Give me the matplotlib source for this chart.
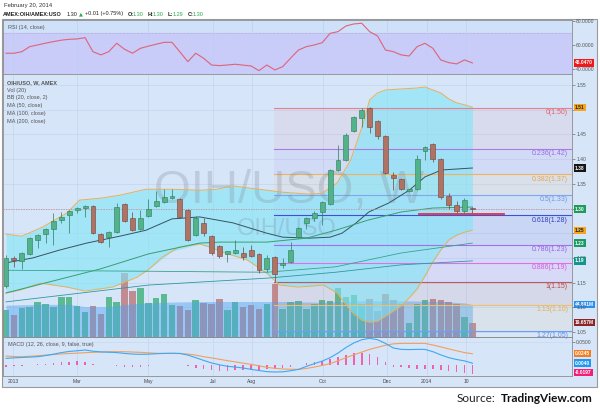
import numpy as np
import matplotlib
matplotlib.use("Agg")
import matplotlib.pyplot as plt
from matplotlib.patches import Rectangle
from matplotlib.lines import Line2D
from matplotlib.transforms import blended_transform_factory

# ---------------- DATA ----------------
# Weekly OIH/USO bars, week of 2012-12-31 .. week of 2014-02-17
opens = [1.143, 1.199, 1.194, 1.208, 1.236, 1.248, 1.258, 1.277, 1.287, 1.297,
         1.301, 1.305, 1.248, 1.242, 1.252, 1.309, 1.281, 1.258, 1.285, 1.305,
         1.313, 1.321, 1.319, 1.297, 1.247, 1.270, 1.244, 1.224, 1.208, 1.210,
         1.210, 1.216, 1.208, 1.178, 1.202, 1.186, 1.192, 1.242, 1.270, 1.280,
         1.293, 1.309, 1.378, 1.398, 1.457, 1.483, 1.503, 1.477, 1.447, 1.368,
         1.360, 1.336, 1.340, 1.416, 1.431, 1.400, 1.325, 1.307, 1.295, 1.301]
highs = [1.205, 1.203, 1.212, 1.242, 1.248, 1.260, 1.290, 1.293, 1.297, 1.303,
         1.307, 1.307, 1.250, 1.254, 1.311, 1.311, 1.292, 1.298, 1.320, 1.336,
         1.340, 1.340, 1.321, 1.299, 1.285, 1.280, 1.246, 1.226, 1.214, 1.236,
         1.222, 1.226, 1.210, 1.205, 1.204, 1.200, 1.232, 1.262, 1.282, 1.295,
         1.315, 1.380, 1.428, 1.452, 1.487, 1.503, 1.505, 1.479, 1.449, 1.374,
         1.362, 1.339, 1.408, 1.427, 1.433, 1.402, 1.331, 1.315, 1.322, 1.303]
lows = [1.140, 1.182, 1.178, 1.205, 1.220, 1.230, 1.226, 1.270, 1.250, 1.290,
        1.283, 1.248, 1.230, 1.222, 1.250, 1.273, 1.254, 1.256, 1.283, 1.303,
        1.311, 1.319, 1.281, 1.234, 1.245, 1.245, 1.205, 1.200, 1.192, 1.208,
        1.196, 1.202, 1.170, 1.172, 1.151, 1.180, 1.190, 1.240, 1.258, 1.275,
        1.267, 1.307, 1.376, 1.396, 1.455, 1.465, 1.453, 1.440, 1.370, 1.337,
        1.338, 1.334, 1.338, 1.398, 1.395, 1.320, 1.300, 1.288, 1.290, 1.290]
closes = [1.200, 1.195, 1.210, 1.240, 1.246, 1.258, 1.275, 1.283, 1.295, 1.301,
          1.305, 1.250, 1.232, 1.252, 1.303, 1.275, 1.256, 1.281, 1.299, 1.315,
          1.323, 1.325, 1.283, 1.236, 1.281, 1.250, 1.210, 1.204, 1.214, 1.216,
          1.202, 1.204, 1.176, 1.200, 1.167, 1.190, 1.216, 1.260, 1.280, 1.290,
          1.313, 1.378, 1.398, 1.449, 1.485, 1.499, 1.465, 1.447, 1.372, 1.362,
          1.340, 1.337, 1.400, 1.425, 1.400, 1.323, 1.307, 1.295, 1.317, 1.299]

volume_m = [37.3, 30.4, 40.0, 41.4, 48.3, 45.5, 41.4, 55.2, 55.2, 42.8,
            34.5, 42.8, 31.7, 55.2, 48.3, 88.3, 63.5, 67.6, 46.9, 53.8,
            59.3, 44.2, 42.8, 37.3, 51.1, 46.9, 45.5, 52.4, 37.3, 48.3,
            41.4, 44.2, 38.6, 45.5, 73.1, 38.6, 48.3, 49.7, 38.6, 45.5,
            51.1, 49.7, 67.6, 55.2, 58.0, 45.5, 52.4, 35.9, 59.3, 51.1,
            45.5, 19.3, 45.5, 51.1, 52.4, 51.1, 48.3, 45.5, 27.6, 19.657]

vol_ma_week = [0, 4, 8, 10, 13, 16, 20, 25, 30, 35, 40, 45, 50, 55, 58, 59]
vol_ma_m = [44, 45, 45, 42, 42, 46, 48, 49, 49, 49, 48, 50, 50, 49, 47, 44.891]

bb_week = [0, 2, 4.7, 7.7, 9.3, 12, 14.4, 17.7, 21, 24.5, 26.7, 28.6, 30.5, 35,
           38.5, 40, 41.9, 43.6, 45.2, 46, 47, 48, 50, 52, 53, 54, 55, 56, 57, 58, 59]
bb_upper = [1.248, 1.244, 1.263, 1.291, 1.317, 1.321, 1.327, 1.339, 1.339, 1.337,
            1.339, 1.346, 1.342, 1.333, 1.329, 1.331, 1.352, 1.398, 1.473, 1.520,
            1.534, 1.540, 1.542, 1.544, 1.546, 1.540, 1.534, 1.522, 1.514, 1.510, 1.505]
bbl_week = [0, 1.8, 4.3, 7.7, 10, 13.5, 16.6, 18, 19.8, 21.9, 24.5, 25.8, 27.7,
            30.5, 33, 34.6, 37, 40.2, 41.9, 43, 44, 45, 46, 47, 48, 50, 51, 52,
            53, 54, 55, 56, 57, 58, 59]
bb_lower = [1.129, 1.135, 1.149, 1.141, 1.133, 1.141, 1.161, 1.176, 1.202, 1.222,
            1.228, 1.222, 1.210, 1.196, 1.169, 1.145, 1.141, 1.145, 1.129, 1.105,
            1.086, 1.074, 1.070, 1.072, 1.082, 1.103, 1.119, 1.137, 1.163, 1.192,
            1.216, 1.236, 1.246, 1.252, 1.256]
basis_week = [0, 3.4, 6.8, 10.2, 14.4, 17.7, 21, 24.5, 28.7, 33, 35, 38.4, 41,
              42.5, 44.3, 45.9, 48.4, 51, 53, 55.1, 59]
bb_basis = [1.190, 1.200, 1.216, 1.230, 1.244, 1.256, 1.279, 1.283, 1.271, 1.250,
            1.242, 1.240, 1.242, 1.250, 1.271, 1.293, 1.311, 1.337, 1.364, 1.378, 1.382]

ma50_week = [0, 12, 18, 24.5, 27, 33, 38, 41.7, 45.9, 50, 54, 59]
ma50 = [1.129, 1.178, 1.208, 1.230, 1.232, 1.232, 1.240, 1.256, 1.277, 1.293, 1.301, 1.303]
ma100_week = [0, 18, 33, 41.7, 50, 59]
ma100 = [1.175, 1.173, 1.171, 1.182, 1.210, 1.230]
ma200_week = [0, 18, 33, 41.7, 50, 59]
ma200 = [1.111, 1.145, 1.159, 1.171, 1.186, 1.194]

rsi = [53.1, 53.1, 54.4, 58.6, 60.0, 61.5, 62.8, 64.0, 64.7, 65.0,
       66.1, 54.4, 51.7, 54.4, 61.4, 56.4, 53.1, 57.2, 59.0, 60.6,
       62.2, 62.2, 54.2, 46.1, 53.1, 48.9, 43.3, 42.8, 43.3, 43.9,
       43.2, 42.5, 38.6, 43.3, 39.2, 41.9, 49.0, 55.8, 58.6, 60.0,
       61.9, 69.7, 71.1, 75.8, 77.5, 78.1, 71.1, 67.5, 55.8, 54.4,
       51.7, 50.8, 58.6, 61.4, 57.2, 47.5, 45.3, 44.2, 47.5, 45.047]

macd = [0.0145, 0.0155, 0.0165, 0.0172, 0.0180, 0.0205, 0.0235, 0.0270, 0.0295, 0.0310,
        0.0326, 0.0300, 0.0285, 0.0278, 0.0270, 0.0252, 0.0238, 0.0232, 0.0236, 0.0245,
        0.0252, 0.0255, 0.0253, 0.0215, 0.0160, 0.0100, 0.0045, 0.0005, -0.0028, -0.0045,
        -0.0065, -0.0095, -0.0120, -0.0145, -0.0152, -0.0148, -0.0125, -0.0095, -0.0030, 0.0030,
        0.0085, 0.0160, 0.0260, 0.0380, 0.0480, 0.0550, 0.0580, 0.0550, 0.0470, 0.0370,
        0.0340, 0.0335, 0.0340, 0.0340, 0.0290, 0.0220, 0.0160, 0.0120, 0.0090, 0.0040]
signal = [0.0195, 0.0185, 0.0180, 0.0190, 0.0202, 0.0215, 0.0228, 0.0240, 0.0250, 0.0258,
          0.0268, 0.0275, 0.0282, 0.0289, 0.0290, 0.0289, 0.0282, 0.0275, 0.0265, 0.0255,
          0.0253, 0.0253, 0.0248, 0.0239, 0.0215, 0.0180, 0.0155, 0.0125, 0.0095, 0.0068,
          0.0040, 0.0015, -0.0020, -0.0050, -0.0072, -0.0087, -0.0092, -0.0094, -0.0075, -0.0045,
          -0.0010, 0.0030, 0.0090, 0.0160, 0.0220, 0.0280, 0.0340, 0.0385, 0.0430, 0.0460,
          0.0470, 0.0470, 0.0470, 0.0470, 0.0435, 0.0395, 0.0350, 0.0310, 0.0270, 0.0245]
hist = [-0.004, -0.003, -0.0015, -0.001, 0.0015, 0.003, 0.004, 0.006, 0.0075, 0.008,
        0.0075, 0.0025, 0.0005, -0.001, -0.002, -0.0035, -0.0045, -0.0045, -0.003, -0.001,
        0.0003, 0.0005, 0.0003, -0.002, -0.0055, -0.008, -0.011, -0.012, -0.0125, -0.0115,
        -0.0105, -0.011, -0.010, -0.0095, -0.008, -0.006, -0.0035, -0.0005, 0.0045, 0.0075,
        0.0095, 0.013, 0.017, 0.022, 0.026, 0.027, 0.024, 0.0165, 0.006, -0.004,
        -0.004, -0.007, -0.008, -0.008, -0.009, -0.011, -0.014, -0.016, -0.018, -0.0197]

fib_ratio = ['0', '0.236', '0.382', '0.5', '0.618', '0.786', '0.886', '1', '1.13', '1.27']
fib_price = [1.503, 1.420, 1.369, 1.327, 1.286, 1.227, 1.190, 1.151, 1.105, 1.052]
fib_text = ['1.50', '1.42', '1.37', '1.33', '1.28', '1.23', '1.19', '1.15', '1.10', '1.05']
fib_start_week = 33.9
support_level = 1.289
support_weeks = [52.3, 63.0]

tick_week = [0.9, 9.0, 18.0, 26.2, 31.1, 40.1, 48.2, 53.2, 58.2]
tick_labels = ['2013', 'Mar', 'May', 'Jul', 'Aug', 'Oct', 'Dec', '2014', '10']
price_ticks = [1.05, 1.10, 1.15, 1.20, 1.25, 1.30, 1.35, 1.40, 1.45, 1.50, 1.55]
price_tick_labels = ['1.05', '1.10', '1.15', '1.20', '', '', '1.35', '1.40', '1.45', '', '1.55']

# ---------------- STYLE / LAYOUT ----------------
FONT = ['Liberation Sans', 'DejaVu Sans']
plt.rcParams['font.family'] = FONT
W, H = 600, 412
BG = '#d7e5f8'
GRID = '#c2d5f0'
SPINE = '#8c8c8c'

def fx(px): return px / W
def fy(py): return 1 - py / H
def rect(x0, y0, x1, y1): return [fx(x0), fy(y1), fx(x1) - fx(x0), fy(y0) - fy(y1)]

fig = plt.figure(figsize=(6, 4.12), dpi=100)
fig.patch.set_facecolor('white')
fig.add_artist(Rectangle((fx(2), fy(387)), fx(597) - fx(2), fy(19) - fy(387),
                         transform=fig.transFigure, fc=BG, ec='#9a9a9a', lw=0.8, zorder=-5))

XL = (-0.38, 71.6)
n = len(closes)
idx = np.arange(n)
o = np.array(opens); c = np.array(closes); hi = np.array(highs); lo = np.array(lows)
up = c >= o

def style_axis(ax):
    ax.set_xlim(*XL)
    for s in ax.spines.values():
        s.set_color(SPINE); s.set_linewidth(0.6)
    ax.yaxis.tick_right()
    ax.tick_params(axis='y', labelsize=3.6, length=2, width=0.4, pad=1, colors='#555555')
    ax.tick_params(axis='x', length=0)

# ---------- RSI ----------
ax_r = fig.add_axes(rect(3, 20, 572, 74))
ax_r.set_facecolor('#cfe1f9')
style_axis(ax_r)
ax_r.set_ylim(35.8, 80.8)
ax_r.axhspan(30, 70, color='#c9cbf8', zorder=0)
ax_r.axhline(70, color='#a6a6cc', lw=0.5, ls=(0, (1, 1)), zorder=1)
ax_r.axhline(60, color=GRID, lw=0.4, zorder=1)
for t in tick_week:
    ax_r.axvline(t, color='#bcd0f2', lw=0.5, zorder=1)
ax_r.plot(idx, rsi, color='#e0637a', lw=0.8, zorder=3)
ax_r.set_yticks([40, 60, 80])
ax_r.set_yticklabels(['40.0000', '60.0000', '80.0000'])
ax_r.set_xticks([])
ax_r.text(0.008, 0.86, 'RSI (14, close)', transform=ax_r.transAxes, fontsize=4,
          color='#555555', va='center')
ax_r.annotate('45.0470', xy=(1, rsi[-1]), xycoords=('axes fraction', 'data'),
              xytext=(2.2, 0), textcoords='offset points', fontsize=3.5, color='white',
              fontweight='bold', va='center', ha='left', annotation_clip=False,
              bbox=dict(boxstyle='square,pad=0.25', fc='#f01818', ec='none'))

# ---------- MAIN (volume underneath) ----------
main_rect = rect(3, 74, 572, 337)
ax_v = fig.add_axes(main_rect, zorder=1)
ax_v.set_facecolor(BG)
ax_v.set_xlim(*XL)
ax_v.set_ylim(0, 263 * 1.38)
ax_v.set_xticks([]); ax_v.set_yticks([])
for s in ax_v.spines.values():
    s.set_visible(False)

ax = fig.add_axes(main_rect, zorder=2)
ax.patch.set_alpha(0)
style_axis(ax)
ax.set_ylim(1.0399, 1.5723)

# grids on the volume (bottom) layer
hbl = blended_transform_factory(ax_v.transAxes, ax.transData)
for p in price_ticks:
    ax_v.add_line(Line2D([0, 1], [p, p], transform=hbl, color=GRID, lw=0.5, zorder=0.5))
for t in tick_week:
    ax_v.axvline(t, color=GRID, lw=0.5, zorder=0.5)

vcol = np.where(up, '#5cba93', '#c08c92')
ax_v.bar(idx, volume_m, width=0.82, color=vcol, zorder=2)
ax_v.fill_between(vol_ma_week, 0, vol_ma_m, color='#4ea3f2', alpha=0.45, lw=0, zorder=3)

# fib retracement
fib_cols = ['#e6808c', '#a77be6', '#eeb35f', '#7fa6ee', '#3f4fd8', '#a36ff0',
            '#e26ee8', '#c05a5a', '#efbf6a', '#6e9ef0']
fib_txt_cols = ['#e0606e', '#a066e6', '#e8a850', '#6f96e6', '#3040c0', '#9b5de5',
                '#dd55e0', '#b84c4c', '#e8b050', '#5f8fe6']
tr_main = blended_transform_factory(ax.transAxes, ax.transData)
for k in range(len(fib_price) - 1):
    ax.fill_between([fib_start_week, XL[1]], fib_price[k + 1], fib_price[k],
                    color=fib_cols[k], alpha=0.09, lw=0, zorder=1)
for k, p in enumerate(fib_price):
    ax.plot([fib_start_week, XL[1]], [p, p], color=fib_cols[k], lw=0.8, zorder=3)
    ax.text(0.993, p - 0.0095, f'{fib_ratio[k]}({fib_text[k]})', transform=tr_main,
            fontsize=5, color=fib_txt_cols[k], ha='right', va='center', zorder=7)

# Bollinger bands
ax.fill_between(bb_week, bb_upper, np.interp(bb_week, bbl_week, bb_lower),
                color='#7fe5f7', alpha=0.6, lw=0, zorder=1.5)
ax.plot(bb_week, bb_upper, color='#e3b25a', lw=0.7, zorder=4)
ax.plot(bbl_week, bb_lower, color='#e3b25a', lw=0.7, zorder=4)
ax.plot(basis_week, bb_basis, color='#36535e', lw=0.7, zorder=4)
ax.plot(ma50_week, ma50, color='#3a9e6e', lw=0.7, zorder=4)
ax.plot(ma100_week, ma100, color='#35a58c', lw=0.6, zorder=4)
ax.plot(ma200_week, ma200, color='#2b9a9e', lw=0.6, zorder=4)

# watermark
ax.text(0.502, 0.555, 'OIH/USO, W', transform=ax.transAxes, fontsize=34,
        color='#7f8a96', alpha=0.28, ha='center', va='center', zorder=3.5)
ax.text(0.499, 0.41, 'OIH/USO', transform=ax.transAxes, fontsize=17,
        color='#7f8a96', alpha=0.28, ha='center', va='center', zorder=3.5)

# last price dotted line and support segment
ax.axhline(closes[-1], color='#c98f98', lw=0.6, ls=(0, (1.5, 1.5)), zorder=4.5)
ax.plot(support_weeks, [support_level, support_level], color='#e8303a', lw=1.3, zorder=7)

# candles
edge = np.where(up, '#2f7a58', '#6e443a')
face = np.where(up, '#52b38a', '#b07363')
ax.vlines(idx, lo, hi, colors=edge, lw=0.5, zorder=5)
bh = np.maximum(np.abs(c - o), 0.0025)
ax.bar(idx, bh, bottom=np.minimum(o, c), width=0.62, color=face, edgecolor=edge,
       lw=0.4, zorder=6)

ax.set_yticks(price_ticks)
ax.set_yticklabels(price_tick_labels)
ax.set_xticks([])

# legend block
leg = ['Vol (20)', 'BB (20, close, 2)', 'MA (50, close)', 'MA (100, close)', 'MA (200, close)']
fig.text(fx(7), fy(82.7), 'OIH/USO, W, AMEX', fontsize=4, fontweight='bold',
         color='#555555', va='center')
for k, s in enumerate(leg):
    fig.text(fx(7), fy(90.2 + 7.8 * k), s, fontsize=4, color='#555555', va='center')

# right-hand value labels
def vbox(axis, val, text, fc, tc='white'):
    axis.annotate(text, xy=(1, val), xycoords=('axes fraction', 'data'),
                  xytext=(2.2, 0), textcoords='offset points', fontsize=3.5, color=tc,
                  fontweight='bold', va='center', ha='left', annotation_clip=False,
                  zorder=10, bbox=dict(boxstyle='square,pad=0.25', fc=fc, ec='none'))

vbox(ax, bb_upper[-1], '1.51', '#f5a41e', '#222222')
vbox(ax, bb_basis[-1], '1.38', '#151515')
vbox(ax, closes[-1], '1.30', '#1e9a5a')
vbox(ax, bb_lower[-1], '1.25', '#f5a41e', '#222222')
vbox(ax, ma100[-1], '1.23', '#1a9a64')
vbox(ax, ma200[-1], '1.19', '#13958a')
vbox(ax_v, vol_ma_m[-1], '44.891M', '#2b8ff0')
vbox(ax_v, volume_m[-1], '19.657M', '#8c2626')

# ---------- MACD ----------
ax_m = fig.add_axes(rect(3, 337, 572, 376))
ax_m.set_facecolor(BG)
style_axis(ax_m)
ax_m.set_ylim(-0.0239, 0.0609)
for t in tick_week:
    ax_m.axvline(t, color=GRID, lw=0.5, zorder=0.5)
ax_m.axhline(0.05, color=GRID, lw=0.4, zorder=0.5)
ax_m.bar(idx, hist, width=0.2, color='#f060b0', zorder=2)
ax_m.plot(idx, signal, color='#f0a060', lw=0.8, zorder=3)
ax_m.plot(idx, macd, color='#3ea8f2', lw=0.8, zorder=3)
ax_m.set_yticks([0.05])
ax_m.set_yticklabels(['0.0500'])
ax_m.set_xticks(tick_week)
ax_m.set_xticklabels(tick_labels, fontsize=3.6, color='#444444')
ax_m.tick_params(axis='x', length=0, pad=2.5)
ax_m.text(0.008, 0.8, 'MACD (12, 26, close, 9, false, true)', transform=ax_m.transAxes,
          fontsize=4, color='#555555', va='center')
vbox(ax_m, signal[-1], '0.0245', '#f57c1f')
vbox(ax_m, macd[-1], '0.0040', '#2196f3')
vbox(ax_m, hist[-1] + 0.004, '-0.0197', '#f0207a')

# ---------- header / footer ----------
fig.text(fx(4), fy(6), 'February 20, 2014', fontsize=4.2, color='#333333', va='center')
y2 = fy(14)
fig.text(fx(3), y2, 'AMEX:OIH/AMEX:USO', fontsize=4, fontweight='bold', color='#222222', va='center')
fig.text(fx(67), y2, '1.30', fontsize=4, color='#222222', va='center')
fig.text(fx(79), y2, '▲', fontsize=3.6, color='#2aa84a', va='center', family=['DejaVu Sans'])
fig.text(fx(85), y2, '+0.01 (+0.75%)', fontsize=4, color='#222222', va='center')
for xp, lab, val in [(128, 'O:', '1.30'), (148, 'H:', '1.30'), (168, 'L:', '1.29'), (187.5, 'C:', '1.30')]:
    fig.text(fx(xp), y2, lab, fontsize=4, fontweight='bold', color='#222222', va='center')
    fig.text(fx(xp + 5), y2, val, fontsize=4, color='#2aa84a', va='center')

fig.text(fx(457), fy(399), 'Source:', fontsize=8.5, color='#222222', va='center', family=['Lato', 'DejaVu Sans'])
fig.text(fx(501), fy(399), 'TradingView.com', fontsize=8.5, fontweight='bold', color='#111111',
         va='center', family=['Lato', 'DejaVu Sans'])

fig.savefig('out.png', dpi=100, facecolor=fig.get_facecolor())
